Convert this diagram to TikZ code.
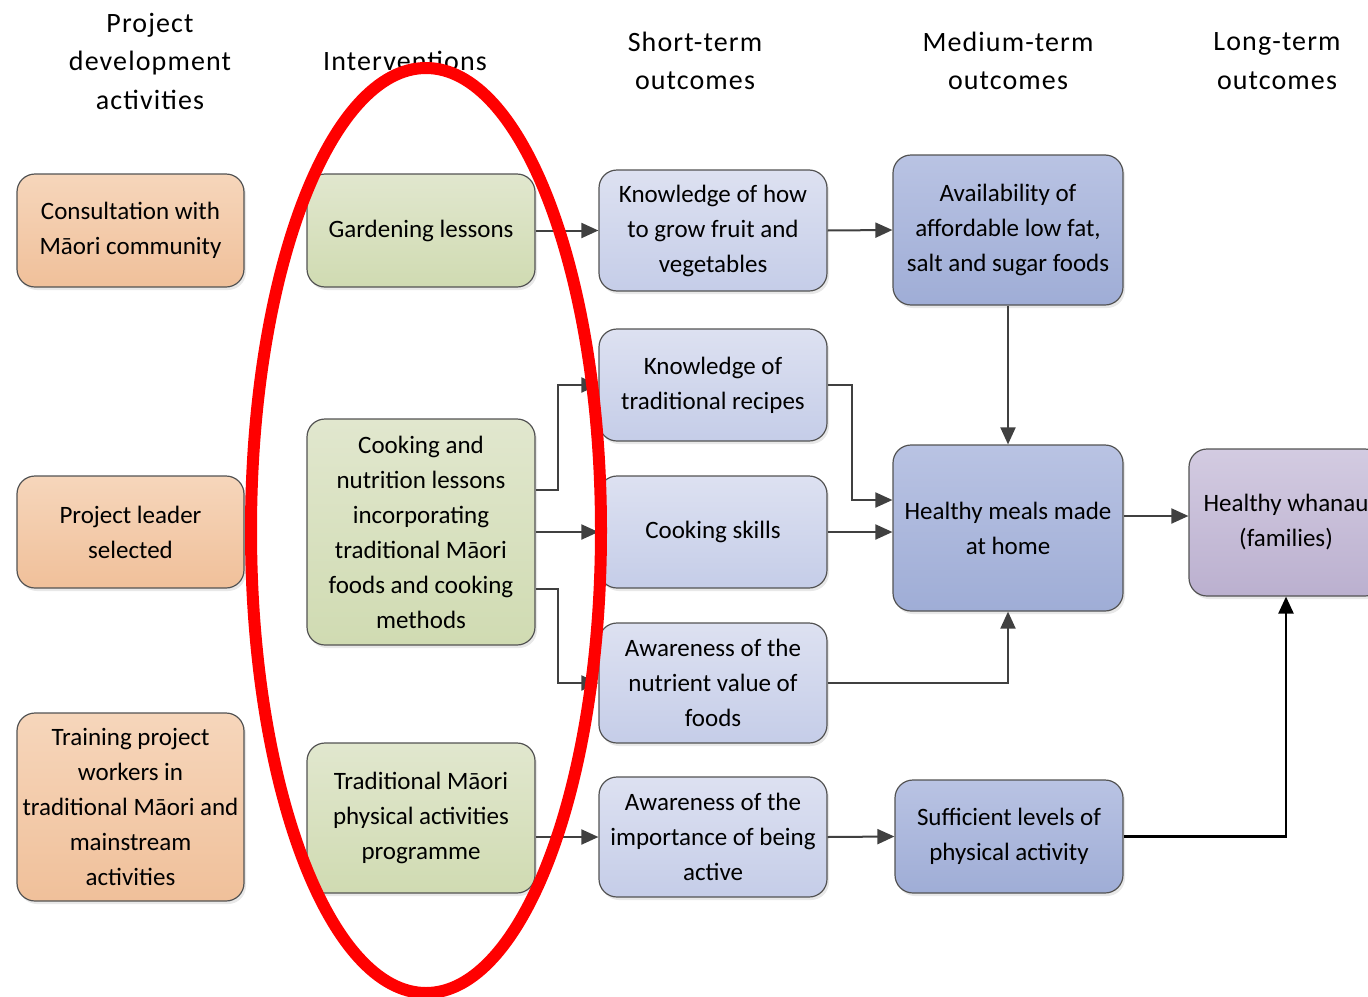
\documentclass[tikz,border=0pt]{standalone}
\usepackage{fontspec}
\setmainfont{Carlito}
\newfontfamily\hdfont[LetterSpace=4]{Carlito}
\usetikzlibrary{arrows.meta,shadows}
\definecolor{edge}{HTML}{404040}
\definecolor{orT}{HTML}{F6D6BB}\definecolor{orB}{HTML}{F0C09A}
\definecolor{grT}{HTML}{E1E7CE}\definecolor{grB}{HTML}{D0DBB2}
\definecolor{lbT}{HTML}{DDE1F1}\definecolor{lbB}{HTML}{C5CDE8}
\definecolor{bbT}{HTML}{B9C3E3}\definecolor{bbB}{HTML}{9FADD6}
\definecolor{puT}{HTML}{D3CBE1}\definecolor{puB}{HTML}{BBB0CF}
\begin{document}
\begin{tikzpicture}[x=1pt,y=-1pt,
  box/.style={rectangle, rounded corners=18pt, draw=edge!90, line width=1.2pt,
    align=center, inner sep=2pt, font=\fontsize{25}{35}\selectfont,
    drop shadow={shadow xshift=2pt, shadow yshift=-3pt, opacity=0.18, fill=black!50}},
  orbox/.style={box, top color=orT, bottom color=orB},
  grbox/.style={box, top color=grT, bottom color=grB},
  lbbox/.style={box, top color=lbT, bottom color=lbB},
  bbbox/.style={box, top color=bbT, bottom color=bbB},
  pubox/.style={box, top color=puT, bottom color=puB},
  hdr/.style={align=center, font=\hdfont\fontsize{28}{38.5}\selectfont, inner sep=0pt},
  arr/.style={draw=edge, line width=2pt, -{Triangle[length=17pt,width=15pt]}},
  arrk/.style={draw=black, line width=2.4pt, -{Triangle[length=17pt,width=15pt]}}]
\useasboundingbox (0,0) rectangle (1368,996);
\clip (0,0) rectangle (1368,996);

% headers
\node[hdr] (h1) at (150,61) {Project\\development\\activities};
\node[hdr] (h2) at (405,61) {Interventions};
\node[hdr] (h3) at (695,61) {Short-term\\outcomes};
\node[hdr] (h4) at (1008,61) {Medium-term\\outcomes};
\node[hdr] (h5) at (1277,61) {Long-term\\outcomes};

% column 1
\node[orbox, minimum width=227pt, minimum height=113pt] (cons) at (130.5,230.5) {Consultation with\\Māori community};
\node[orbox, minimum width=227pt, minimum height=112pt] (lead) at (130.5,532) {Project leader\\selected};
\node[orbox, minimum width=227pt, minimum height=188pt] (train) at (130.5,807) {Training project\\workers in\\traditional Māori and\\mainstream\\activities};

% column 2
\node[grbox, minimum width=228pt, minimum height=113pt] (gard) at (421,230.5) {Gardening lessons};
\node[grbox, minimum width=228pt, minimum height=226pt] (cook) at (421,532) {Cooking and\\nutrition lessons\\incorporating\\traditional Māori\\foods and cooking\\methods};
\node[grbox, minimum width=228pt, minimum height=150pt] (trad) at (421,818) {Traditional Māori\\physical activities\\programme};

% column 3
\node[lbbox, minimum width=228pt, minimum height=121pt] (kh) at (713,230.5) {Knowledge of how\\to grow fruit and\\vegetables};
\node[lbbox, minimum width=228pt, minimum height=112pt] (kt) at (713,385) {Knowledge of\\traditional recipes};
\node[lbbox, minimum width=228pt, minimum height=112pt] (cs) at (713,532) {Cooking skills};
\node[lbbox, minimum width=228pt, minimum height=120pt] (an) at (713,683) {Awareness of the\\nutrient value of\\foods};
\node[lbbox, minimum width=228pt, minimum height=120pt] (ai) at (713,837) {Awareness of the\\importance of being\\active};

% column 4
\node[bbbox, minimum width=230pt, minimum height=150pt] (av) at (1008,230) {Availability of\\affordable low fat,\\salt and sugar foods};
\node[bbbox, minimum width=230pt, minimum height=166pt] (hm) at (1008,528) {Healthy meals made\\at home};
\node[bbbox, minimum width=228pt, minimum height=113pt] (su) at (1009,836.5) {Sufficient levels of\\physical activity};

% column 5
\node[pubox, minimum width=194pt, minimum height=147pt] (hw) at (1286,522.5) {Healthy whanau\\(families)};

% connectors
\draw[arr] (gard.east) -- (kh.west);
\draw[arr] (kh.east) -- (av.west);
\draw[arr] (av.south) -- (hm.north);
\draw[arr] ([yshift=42pt]cook.east) -- ++(22,0) |- (kt.west);
\draw[arr] (cook.east) -- (cs.west);
\draw[arr] ([yshift=-57pt]cook.east) -- ++(22,0) |- (an.west);
\draw[arr] (kt.east) -- ++(24,0) |- ([yshift=28pt]hm.west);
\draw[arr] (cs.east) -- (hm.west |- cs.east);
\draw[arr] (an.east) -| (hm.south);
\draw[arr] ([yshift=12pt]hm.east) -- ([yshift=12pt]hm.east -| hw.west);
\draw[arr] ([yshift=-19pt]trad.east) -- (ai.west);
\draw[arr] (ai.east) -- (su.west);
\draw[arrk] (su.east) -| (hw.south);

% red ellipse
\draw[red, line width=12pt] (426,530.5) ellipse [x radius=175pt, y radius=462.5pt];
\end{tikzpicture}
\end{document}
